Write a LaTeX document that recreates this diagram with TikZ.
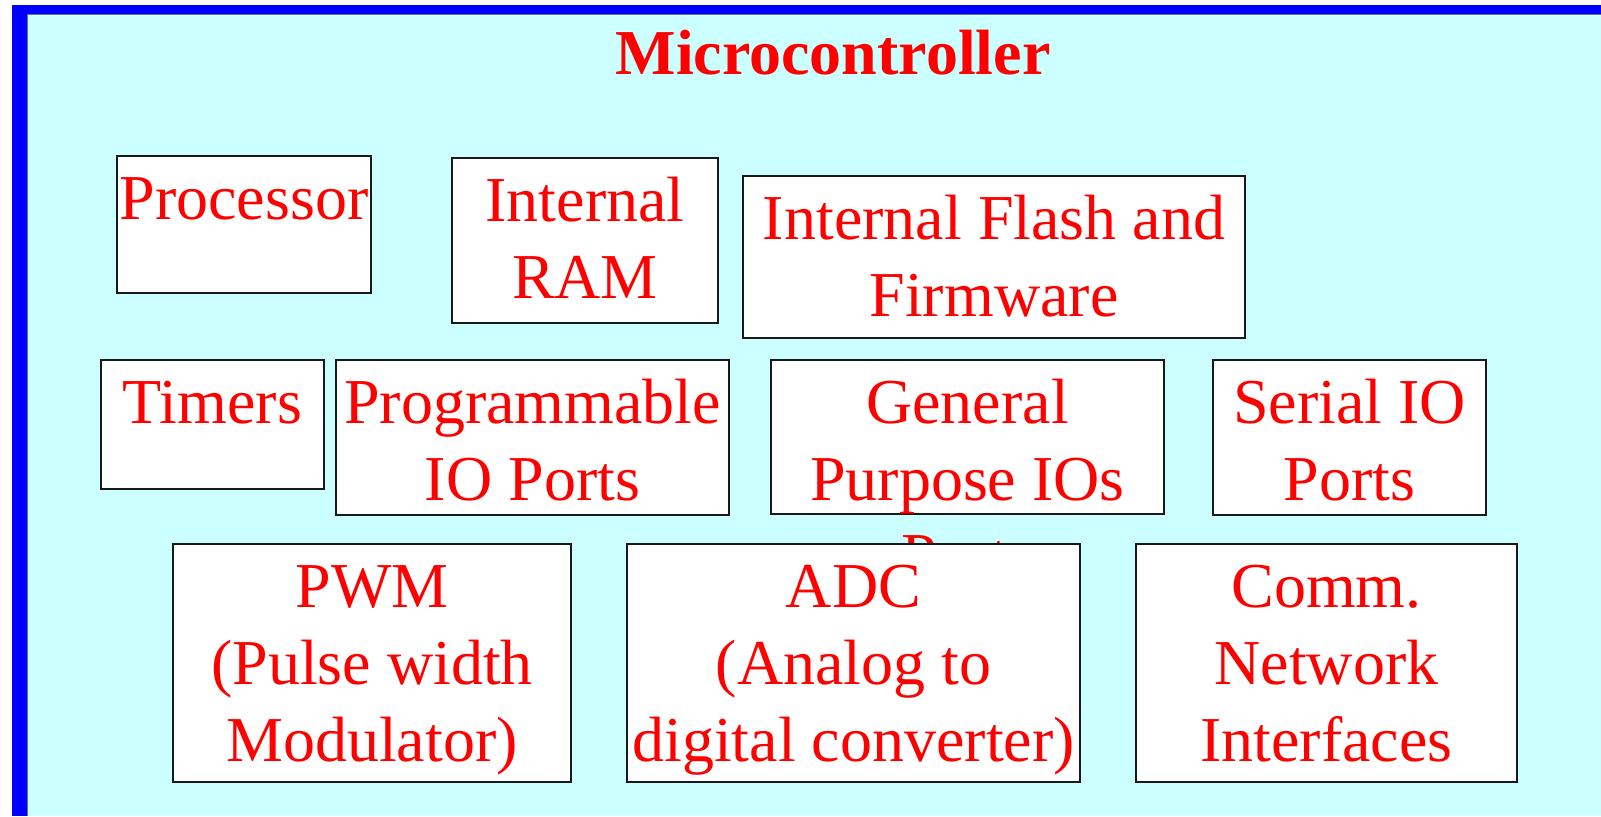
\documentclass[tikz,border=0pt]{standalone}
\usepackage{fontspec}
\setmainfont{Liberation Serif}
\usetikzlibrary{positioning,fit}

\definecolor{panelcyan}{RGB}{204,255,255}
\definecolor{frameblue}{RGB}{0,0,255}

\tikzset{
  blk/.style={draw=black!90, line width=1.3pt, fill=white, inner sep=0pt},
  txt/.style={text=red, inner sep=0pt, align=center,
    font=\fontsize{32}{38.5}\selectfont},
}

\begin{document}
\begin{tikzpicture}[x=0.5pt,y=-0.5pt]
\useasboundingbox (0,0) rectangle (1601,816);

% panel and frame
\fill [panelcyan] (12,5) rectangle (1601,816);
\fill [frameblue] (12,5) rectangle (1601,14);
\fill [frameblue] (12,5) rectangle (27,816);
\draw [black!55, line width=0.6pt] (1601,14.5) -- (27.5,14.5) -- (27.5,816);

\node [txt, font=\fontsize{32}{38.5}\selectfont\bfseries, anchor=base] (title) at (833,74) {Microcontroller};

% first row
\node [blk, fit={(117,156) (371,293)}] (proc) {};
\node [txt, below=5pt of proc.north] (procT) {\strut Processor};

\node [blk, fit={(452,158) (718,323)}] (ram) {};
\node [txt, below=5pt of ram.north] (ramT) {\strut Internal\\RAM};

\node [blk, fit={(743,176) (1245,338)}] (flash) {};
\node [txt, below=5pt of flash.north] (flashT) {\strut Internal Flash and\\Firmware};

% second row
\node [blk, fit={(101,360) (324,489)}] (timers) {};
\node [txt, below=5pt of timers.north] (timersT) {\strut Timers};

\node [blk, fit={(336,360) (729,515)}] (prog) {};
\node [txt, below=5pt of prog.north] (progT) {\strut Programmable\\IO Ports};

\node [blk, fit={(771,360) (1164,514)}] (gpio) {};
\node [txt, below=5pt of gpio.north] (gpioT) {\strut General\\Purpose IOs\\Ports};

\node [blk, fit={(1213,360) (1486,515)}] (serial) {};
\node [txt, below=5pt of serial.north] (serialT) {\strut Serial IO\\Ports};

% third row
\node [blk, fit={(173,544) (571,782)}] (pwm) {};
\node [txt, below=5pt of pwm.north] (pwmT) {\strut PWM\\(Pulse width\\Modulator)};

\node [blk, fit={(627,544) (1080,782)}] (adc) {};
\node [txt, below=5pt of adc.north] (adcT) {\strut ADC\\(Analog to\\digital converter)};

\node [blk, fit={(1136,544) (1517,782)}] (comm) {};
\node [txt, below=5pt of comm.north] (commT) {\strut Comm.\\Network\\Interfaces};
\end{tikzpicture}
\end{document}
